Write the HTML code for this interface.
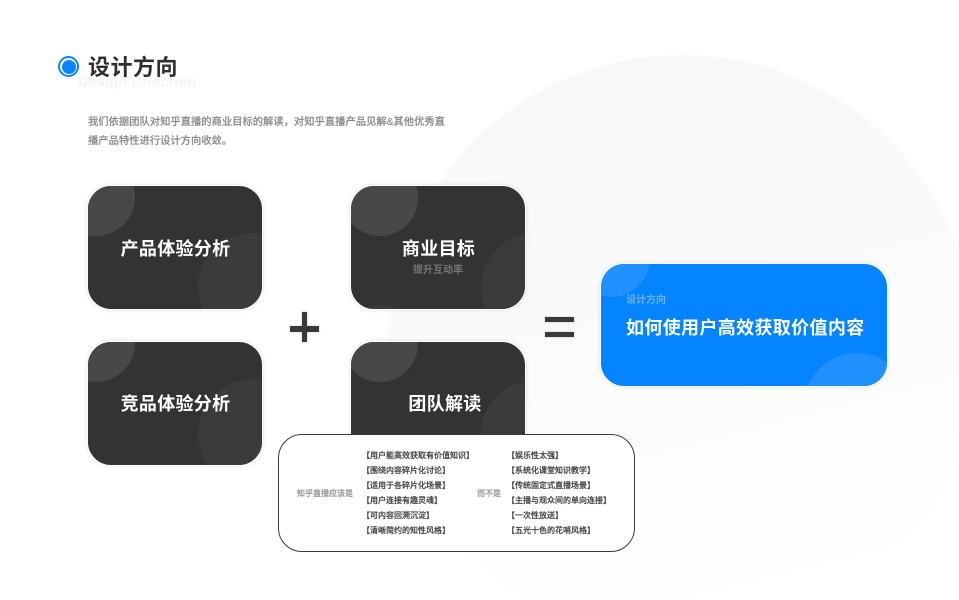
<!DOCTYPE html>
<html lang="zh"><head><meta charset="utf-8"><style>
*{box-sizing:border-box;margin:0;padding:0}
html,body{width:959px;height:600px;overflow:hidden;background:#fff}
body{position:relative;font-family:"Liberation Sans","Noto Sans CJK SC",sans-serif}
.abs{position:absolute;white-space:nowrap}
.bgs{position:absolute;left:0;top:0;display:block}
.card{position:absolute;width:176px;height:125px;border-radius:24px;background:#333;border:1px solid #fff;box-shadow:0 0 4px rgba(0,0,0,.12);overflow:hidden}
.card i{position:absolute;border-radius:50%;display:block}
.c1{background:#484848}
.c2{width:108px;height:108px;background:#3b3b3b}
.c3{background:#3b3b3b}
.t{position:absolute;left:1px;right:0;text-align:center;color:#fff;font-size:18px;font-weight:700;line-height:24px;letter-spacing:.3px}
.blue{position:absolute;left:600px;top:263px;width:288px;height:124px;border-radius:24px;background:#0584ff;border:1px solid #fff;box-shadow:0 0 4px rgba(0,0,0,.12);overflow:hidden}
.blue i{position:absolute;border-radius:50%;display:block;background:#2191ff}
.box{position:absolute;left:278px;top:434px;width:356.5px;height:117.5px;border-radius:24px;background:#fff;border:1.5px solid #3a3a3a}
.ln{position:absolute;font-size:8px;line-height:15px;color:#444;white-space:nowrap;font-weight:500;-webkit-text-stroke:.2px currentColor}
.bar{position:absolute;background:#3a3a3a;box-shadow:0 0 2px rgba(0,0,0,.25)}
</style></head><body>
<svg class="bgs" width="959" height="600" viewBox="0 0 959 600" xmlns="http://www.w3.org/2000/svg">
<defs><linearGradient id="g" gradientUnits="userSpaceOnUse" x1="600" y1="55" x2="750" y2="645"><stop offset="0" stop-color="#f8f8f8"/><stop offset="0.35" stop-color="#fafafa"/><stop offset="0.7" stop-color="#fdfdfd"/><stop offset="0.95" stop-color="#fff"/></linearGradient></defs>
<path d="M525.4 600A295 295 0 1 1 959 248.5L959 451.5A295 295 0 0 1 838.6 600Z" fill="url(#g)"/>
</svg>
<div class="abs" style="left:58px;top:56px;width:21px;height:21px;border-radius:50%;border:2.5px solid #0a84ff;background:#fff"></div>
<div class="abs" style="left:61.5px;top:59.5px;width:14px;height:14px;border-radius:50%;background:#0a84ff"></div>
<div class="abs" style="left:78px;top:73px;font-size:14px;font-weight:700;line-height:17px;color:#f4f4f4;letter-spacing:.45px">Design Direction</div>
<div class="abs" style="left:88px;top:53px;font-size:22px;font-weight:700;line-height:30px;color:#2f2f2f;letter-spacing:.5px">设计方向</div>
<div class="abs" style="left:88px;top:113px;font-size:10.3px;line-height:19px;font-weight:500;color:#8a8a8a;-webkit-text-stroke:.15px #8a8a8a">我们依据团队对知乎直播的商业目标的解读，对知乎直播产品见解&amp;其他优秀直<br>播产品特性进行设计方向收敛。</div>

<div class="card" style="left:87px;top:185px"><i class="c1" style="left:-31px;top:-28px;width:78px;height:78px"></i><i class="c2" style="left:110px;top:47px"></i><div class="t" style="top:51px">产品体验分析</div></div>
<div class="card" style="left:87px;top:341px"><i class="c1" style="left:-31px;top:-38px;width:78px;height:78px"></i><i class="c2" style="left:110px;top:37px"></i><div class="t" style="top:50px">竞品体验分析</div></div>
<div class="card" style="left:350px;top:185px"><i class="c1" style="left:-9px;top:-26px;width:76px;height:76px"></i><i class="c2" style="left:130px;top:47px"></i><i class="c3" style="left:-16px;top:119px;width:90px;height:90px"></i><div class="t" style="top:51px">商业目标</div><div class="abs" style="left:0;right:0;top:77px;text-align:center;font-size:10px;line-height:16px;font-weight:700;color:#777">提升互动率</div></div>
<div class="card" style="left:350px;top:341px"><i class="c1" style="left:-9px;top:-36px;width:76px;height:76px"></i><i class="c2" style="left:130px;top:38px"></i><div class="t" style="top:50px;left:14px">团队解读</div></div>

<div class="bar" style="left:290px;top:326px;width:29px;height:5.5px"></div>
<div class="bar" style="left:301.5px;top:312px;width:5.5px;height:30px"></div>
<div class="bar" style="left:544.5px;top:317px;width:29px;height:5px"></div>
<div class="bar" style="left:544.5px;top:332px;width:29px;height:5px"></div>

<div class="blue"><i style="left:-29px;top:-45px;width:78px;height:78px"></i><i style="left:203px;top:89px;width:106px;height:106px"></i>
<div class="abs" style="left:25px;top:30px;font-size:10px;line-height:14px;font-weight:700;color:#6db4fb">设计方向</div>
<div class="abs" style="left:25px;top:51px;font-size:18px;line-height:26px;font-weight:700;color:#fff;letter-spacing:.35px">如何使用户高效获取价值内容</div></div>

<div class="box"></div>
<div class="ln" style="left:297px;top:486px;color:#999">知乎直播应该是</div>
<div class="ln" style="left:477px;top:486px;color:#999">而不是</div>
<div class="ln" style="left:362px;top:448px">【用户能高效获取有价值知识】<br>【围绕内容碎片化讨论】<br>【适用于各碎片化场景】<br>【用户连接有趣灵魂】<br>【可内容回溯沉淀】<br>【清晰简约的知性风格】</div>
<div class="ln" style="left:507px;top:448px">【娱乐性太强】<br>【系统化课堂知识教学】<br>【传统固定式直播场景】<br>【主播与观众间的单向连接】<br>【一次性放送】<br>【五光十色的花哨风格】</div>
</body></html>
